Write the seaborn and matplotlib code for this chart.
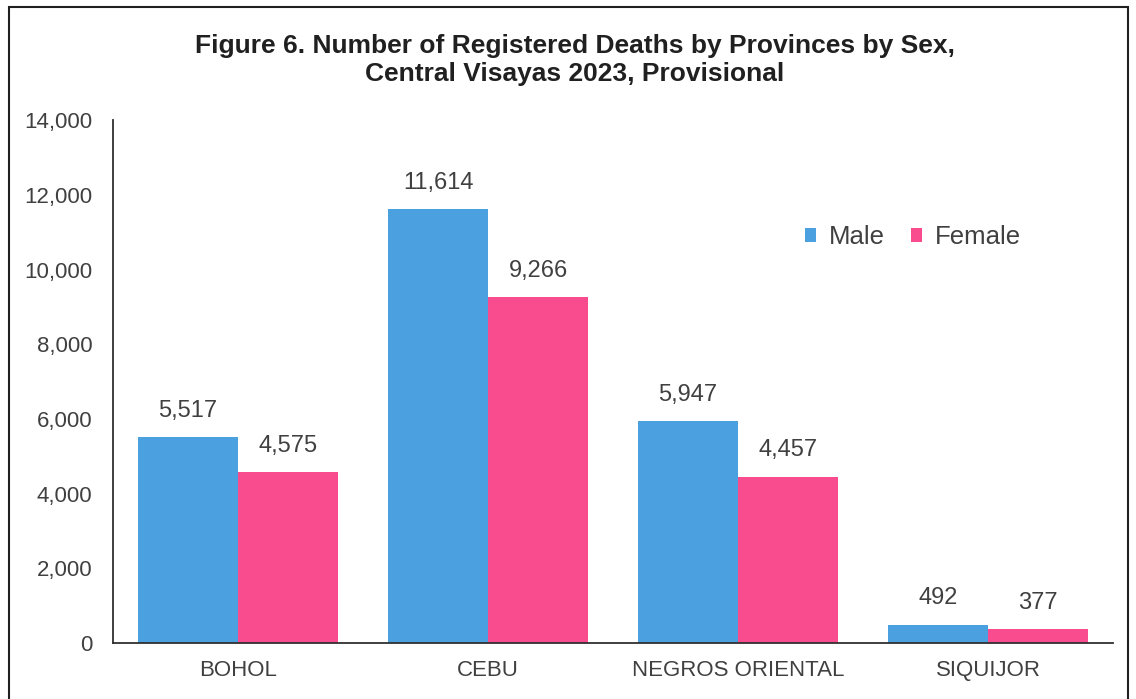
import pandas as pd
import matplotlib.pyplot as plt
import seaborn as sns
from matplotlib.patches import Rectangle

# Datos del gráfico
provinces = ['BOHOL', 'CEBU', 'NEGROS ORIENTAL', 'SIQUIJOR']
male = [5517, 11614, 5947, 492]
female = [4575, 9266, 4457, 377]
sexes = ['Male', 'Female']
y_ticks = [0, 2000, 4000, 6000, 8000, 10000, 12000, 14000]

df = pd.DataFrame({
    'Province': provinces * 2,
    'Sex': ['Male'] * len(provinces) + ['Female'] * len(provinces),
    'Deaths': male + female,
})

sns.set_theme(style="white")
plt.rcParams['font.family'] = ['Liberation Sans', 'DejaVu Sans']
text_color = '#404040'

fig = plt.figure(figsize=(11.36, 6.99), dpi=100)
ax = fig.add_axes([0.0995, 0.080, 0.8803, 0.748])

sns.barplot(data=df, x='Province', y='Deaths', hue='Sex', hue_order=sexes,
            palette={'Male': '#4BA1DF', 'Female': '#F84C8E'},
            width=0.8, saturation=1, linewidth=0, ax=ax)

for container in ax.containers:
    ax.bar_label(container, labels=[f'{v:,.0f}' for v in container.datavalues],
                 padding=11, fontsize=17, color=text_color)

ax.set_xlim(-0.5, 3.5)
ax.set_ylim(0, 14000)
ax.set_yticks(y_ticks)
ax.set_yticklabels([f'{t:,}' for t in y_ticks], fontsize=16, color=text_color)
ax.tick_params(axis='both', length=0, pad=12)
ax.tick_params(axis='y', pad=15)
for lab in ax.get_xticklabels():
    lab.set_fontsize(16)
    lab.set_color(text_color)
ax.set_xlabel('')
ax.set_ylabel('')

sns.despine(ax=ax)
for side in ['left', 'bottom']:
    ax.spines[side].set_color('#303030')
    ax.spines[side].set_linewidth(1.3)

ax.legend(loc='center', bbox_to_anchor=(0.8, 0.776), ncol=2, frameon=False,
          fontsize=18.5, handlelength=0.45, handleheight=0.45, handletextpad=0.5,
          columnspacing=1.0, labelcolor=text_color)

fig.text(0.506, 0.914, 'Figure 6. Number of Registered Deaths by Provinces by Sex,\nCentral Visayas 2023, Provisional',
         ha='center', va='center', fontsize=19, fontweight='bold',
         color='#202020', linespacing=1.25)

# Marco exterior
fig.patches.append(Rectangle((0.008, -0.05), 0.985, 1.04, transform=fig.transFigure,
                             fill=False, edgecolor='#202020', linewidth=1.5))

fig.savefig('out.png', dpi=100)
